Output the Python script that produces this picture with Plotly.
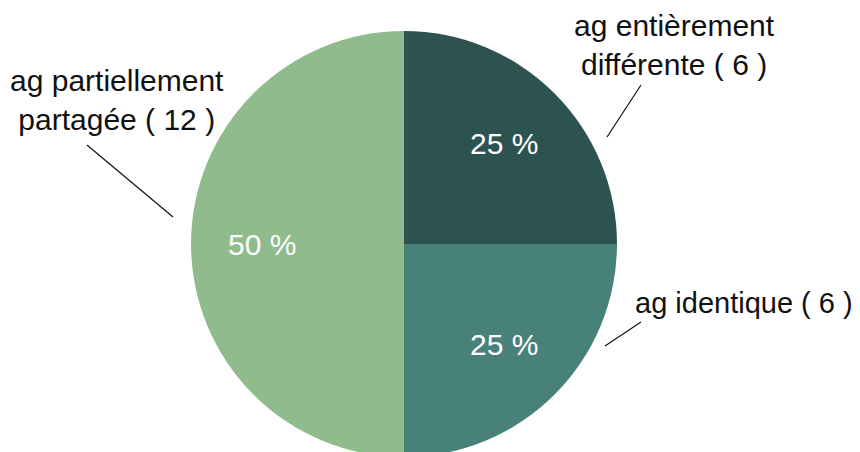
import math
import plotly.graph_objects as go

labels = ["ag entièrement différente", "ag identique", "ag partiellement partagée"]
counts = [6, 6, 12]
colors = ["#2c5350", "#48807a", "#90bb8c"]

W, H = 860, 452
OFF = 8  # page body margin offset of the plot div
CX, CY, R = 404 - OFF, 244 - OFF, 213  # pie centre / radius in px (from top-left of figure)
FONT = "Liberation Sans, Arial, Helvetica, sans-serif"

fig = go.Figure(go.Pie(
    labels=labels,
    values=counts,
    marker=dict(colors=colors, line=dict(width=0)),
    sort=False,
    direction="clockwise",
    rotation=0,
    textinfo="none",
    hoverinfo="label+value+percent",
    showlegend=False,
    domain=dict(x=[(CX - R) / W, (CX + R) / W], y=[(H - CY - R) / H, (H - CY + R) / H]),
))

annotations = []
total = sum(counts)
start = 0.0
for v in counts:
    frac = v / total
    mid = (start + frac / 2) * 2 * math.pi
    start += frac
    px = CX + 0.665 * R * math.sin(mid)
    py = CY - 0.665 * R * math.cos(mid)
    annotations.append(dict(
        x=px / W, y=1 - py / H, xref="paper", yref="paper",
        text=f"{round(frac * 100)} %", showarrow=False,
        font=dict(family=FONT, size=30, color="white"),
        xanchor="center", yanchor="middle",
    ))

# outside labels: (text, centre x px, centre y px or None for top anchor, size) in reference page coords
outside = [
    (f"ag entièrement<br>différente ( {counts[0]} )", 674, None, 30),
    (f"ag identique ( {counts[1]} )", 744, 303, 29),
    (f"ag partiellement<br>partagée ( {counts[2]} )", 117, 100, 30),
]
for txt, x, y, fs in outside:
    if y is None:
        yy, ya = 1.0, "top"
    else:
        yy, ya = 1 - (y - OFF) / H, "middle"
    annotations.append(dict(
        x=(x - OFF) / W, y=yy, xref="paper", yref="paper",
        text=txt, showarrow=False, align="center",
        font=dict(family=FONT, size=fs, color="#111111"),
        xanchor="center", yanchor=ya, borderpad=0,
    ))

leaders = [((607, 137), (641, 85)), ((605, 346), (641, 322)), ((173, 217), (87, 145))]
shapes = []
for (x0, y0), (x1, y1) in leaders:
    shapes.append(dict(type="line", xref="paper", yref="paper",
                       x0=(x0 - OFF) / W, y0=1 - (y0 - OFF) / H,
                       x1=(x1 - OFF) / W, y1=1 - (y1 - OFF) / H,
                       line=dict(color="#111111", width=1.2)))

fig.update_layout(
    width=W, height=H,
    margin=dict(l=0, r=0, t=0, b=0),
    paper_bgcolor="white", plot_bgcolor="white",
    annotations=annotations, shapes=shapes,
)

fig.write_html("out.html")
